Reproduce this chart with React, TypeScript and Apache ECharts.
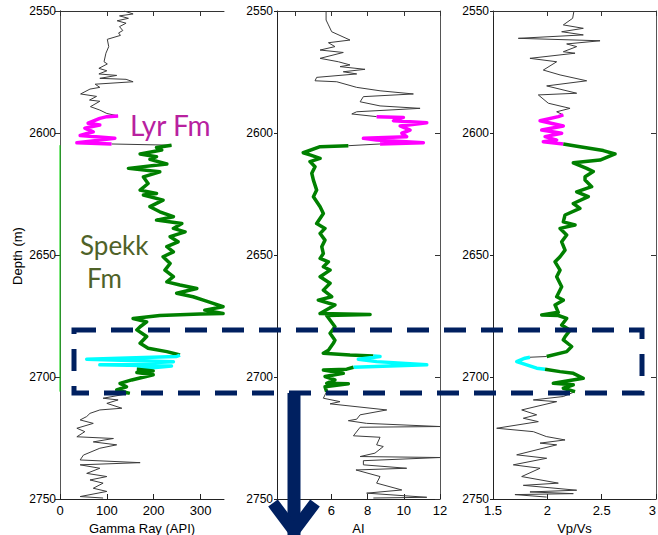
import React, { useEffect, useRef } from "react";
import * as echarts from "echarts";

type Pt = [number, number]; // [log value, depth (m)]

// Depth axis
const depthMin = 2550;
const depthMax = 2750;
const depthStep = 50;

// Tick values of the three log tracks
const grTicks = [0, 100, 200, 300];
const aiTicks = [4, 6, 8, 10, 12];
const vpvsTicks = [1.5, 2, 2.5, 3];

// ---- Gamma Ray (API) ----
const grAbove: Pt[] = [[137,2550],[156,2551.2],[127,2552],[146,2553],[122,2554],[141,2555],[127,2556.4],[134,2558],[125,2559],[129,2560],[101,2561.6],[104,2564.6],[98,2567.3],[94,2570.8],[101,2571.7],[83,2573.5],[100,2574.5],[83,2575.8],[121,2576.4],[85,2577.6],[141,2578],[156,2579],[75,2580],[85,2581.3],[64,2582],[44,2584],[78,2585],[63,2586.5],[85,2587],[65,2589.2],[85,2590.6],[100,2592],[124,2593]];
const grLyr: Pt[] = [[124,2593],[100,2593.3],[85,2594],[60,2596],[85,2596.7],[53,2598],[71,2599.5],[43,2601],[117,2602.2],[36,2604],[110,2604.5]];
const grLink: Pt[] = [[110,2604.5],[238,2605]];
const grSpekkUpper: Pt[] = [[238,2605],[206,2605.9],[217,2607],[171,2608.6],[206,2609.7],[192,2610.8],[228,2612.7],[146,2614.5],[213,2615.9],[178,2618],[188,2620.7],[171,2623.4],[206,2624.8],[178,2625.4],[220,2627.5],[192,2630.2],[213,2632.3],[242,2634.3],[206,2635.7],[260,2637.1],[242,2639.1],[267,2640.5],[235,2642.5],[252,2644.6],[228,2646.6],[242,2648.7],[220,2650.7],[235,2653.5],[224,2656.2],[242,2658.9],[228,2661],[256,2662.3],[292,2663.7],[249,2665.7],[284,2667.1],[306,2668.5],[327,2669.8],[348,2671.2],[309,2672.6],[348,2674],[299,2674.2],[213,2674.8],[156,2676],[185,2677.4],[171,2679.4],[164,2680.7],[185,2683.4],[171,2686.2],[188,2688.2],[228,2689.6],[256,2691]];
const grSand: Pt[] = [[256,2691],[249,2691.6],[57,2692.7],[242,2693.7],[85,2695],[238,2695.5],[164,2696.8]];
const grSpekkLower: Pt[] = [[164,2696.8],[199,2697.5],[164,2698.2],[199,2699.1],[153,2701.2],[128,2702.6],[142,2704],[121,2705.3],[149,2706.7]];
const grBelow: Pt[] = [[149,2706.7],[92,2708.7],[124,2709.4],[100,2710.8],[132,2712.8],[85,2713.5],[64,2714.9],[57,2716.2],[43,2717.6],[71,2719],[36,2721],[53,2722.4],[36,2724.5],[114,2725.2],[71,2726.6],[121,2727.8],[85,2729.2],[50,2732],[43,2734],[171,2735.1],[43,2736],[85,2737.4],[57,2739.5],[100,2740.8],[64,2742.2],[92,2743.5],[71,2745.6],[100,2746.9],[43,2749],[92,2749.6]];
const grZeroEdge: Pt[] = [[0,2605],[0,2706]];

// ---- Acoustic impedance (AI) ----
const aiAbove: Pt[] = [[5.71,2550],[5.71,2553.7],[5.84,2555.7],[6.02,2558.5],[7.03,2561.9],[5.84,2563],[6.2,2564.6],[5.38,2566],[6.66,2567],[5.38,2569.4],[6.39,2570.8],[7.03,2572.1],[6.48,2572.8],[7.86,2573.9],[6.66,2574.9],[7.4,2575.8],[5.19,2577.2],[5.1,2578.6],[6.3,2579],[7.4,2581.3],[8.69,2582.7],[10.53,2584],[7.77,2585.1],[7.59,2587.2],[8.69,2588.9],[10.9,2589.9],[7.4,2591.3],[7.13,2592.2],[8.5,2593.3]];
const aiLyr: Pt[] = [[8.5,2593.3],[9.98,2593.6],[9.43,2595],[11.27,2595.8],[9.8,2597.1],[10.35,2598.8],[9.89,2600.1],[10.16,2601.5],[7.77,2602.2],[8.5,2602.9],[11.08,2604],[8.69,2604.5]];
const aiLink: Pt[] = [[8.69,2604.5],[6.94,2605.2]];
const aiSpekkUpper: Pt[] = [[6.94,2605.2],[5.38,2605.6],[4.45,2608.1],[4.82,2609],[5.38,2610.4],[4.82,2611.7],[5.1,2613.8],[4.92,2616.5],[5.01,2619.3],[5.19,2623.4],[5.01,2626.1],[5.38,2630.2],[5.56,2633],[5.19,2637.1],[5.65,2639.1],[5.38,2641.2],[5.65,2643.9],[5.47,2646.6],[5.56,2649.4],[5.38,2651.4],[5.84,2652.8],[5.56,2654.8],[5.93,2656.2],[5.38,2658.9],[5.93,2661.6],[5.56,2664.4],[6.02,2667.1],[5.28,2668.5],[6.2,2670.5],[5.38,2674],[8.14,2674.4],[5.74,2674.8],[6.2,2679.4],[5.93,2682.1],[6.2,2684.9],[6.11,2686.2],[5.84,2689],[5.56,2690.3],[7.03,2691],[8.32,2691.4]];
const aiSand: Pt[] = [[8.32,2691.4],[8.69,2691.6],[7.49,2692.7],[8.5,2693.7],[11.27,2695],[7.22,2696]];
const aiSpekkLower: Pt[] = [[7.22,2696],[6.85,2696.8],[5.56,2697.1],[6.66,2698.5],[5.65,2699.8],[6.2,2701.2],[5.74,2702.6],[6.94,2702.8],[5.65,2704],[5.74,2706]];
const aiBelow: Pt[] = [[5.74,2706],[5.56,2708.7],[6.48,2710.1],[5.93,2711],[9.06,2713.5],[7.59,2715.5],[7.4,2717.3],[6.94,2717.9],[7.95,2719],[12,2720.3],[7.59,2720.6],[7.22,2724.1],[8.69,2724.7],[8.5,2727.8],[8.87,2728.5],[8.41,2731.2],[7.59,2732.6],[12,2733],[7.77,2734.3],[7.77,2736],[10.16,2737.4],[7.36,2738.1],[8.69,2740.8],[8.5,2743.5],[9.89,2746.3],[7.95,2747.6],[11.27,2749.3],[8.32,2749.6]];

// ---- Vp/Vs ----
const vpvsAbove: Pt[] = [[2.245,2550],[2.233,2553],[2.147,2555.7],[2.331,2557.1],[2.132,2558.5],[2.331,2559.8],[1.733,2561.2],[2.485,2562.2],[2.178,2563.5],[2.27,2564.6],[2.147,2566.7],[2.255,2567.3],[1.84,2569.4],[2.086,2570.8],[1.963,2574.2],[2.117,2576.2],[2.362,2578.6],[1.994,2580.7],[2.27,2583.7],[1.917,2584.4],[2.009,2587.8],[2.209,2589.9],[2.086,2591.3],[2.147,2592.6]];
const vpvsLyr: Pt[] = [[2.147,2592.6],[2.101,2593.3],[1.933,2595],[2.147,2597.1],[1.948,2598.8],[2.132,2600.1],[1.979,2601.5],[2.086,2602.9],[1.963,2603.6],[2.147,2604.5]];
const vpvsSpekkUpper: Pt[] = [[2.147,2604.5],[2.3,2605.6],[2.515,2607.2],[2.623,2608.6],[2.485,2611.1],[2.239,2612.2],[2.362,2614.5],[2.423,2615.8],[2.347,2617.9],[2.347,2619.3],[2.408,2622],[2.27,2624.1],[2.377,2626.1],[2.239,2628.9],[2.3,2630.9],[2.163,2633.6],[2.147,2636.4],[2.255,2637.7],[2.117,2639.1],[2.178,2641.8],[2.132,2644.6],[2.163,2648],[2.117,2650.7],[2.071,2652.8],[2.117,2656.2],[2.086,2658.9],[2.132,2663],[2.086,2667.1],[2.147,2668.5],[2.071,2670.5],[2.101,2673.5],[1.948,2674.6],[2.101,2674.8],[2.178,2676],[2.132,2678.7],[2.209,2680.8],[2.163,2683.5],[2.147,2684.8],[2.224,2687.5],[2.178,2689.6],[1.994,2691.6]];
const vpvsLink: Pt[] = [[1.994,2691.6],[1.84,2691.9]];
const vpvsSand: Pt[] = [[1.84,2691.9],[1.794,2692.3],[1.718,2693.7],[1.81,2695],[1.902,2696.4],[1.979,2696.8]];
const vpvsSpekkLower: Pt[] = [[1.979,2696.8],[2.117,2697.8],[2.239,2698.5],[2.331,2700.5],[2.055,2702.6],[2.239,2703.2],[2.147,2704.6],[2.255,2706]];
const vpvsBelow: Pt[] = [[2.255,2706],[2.147,2708],[1.871,2709.4],[2.086,2710.1],[1.764,2713.5],[1.902,2715.5],[1.779,2716.9],[1.917,2718.3],[1.534,2721],[1.871,2722.4],[1.99,2724.4],[2.163,2725.8],[1.933,2727.1],[2.086,2727.8],[1.718,2731.9],[1.994,2733.3],[1.687,2736],[1.933,2737.4],[1.764,2740.8],[2.101,2743.5],[1.779,2744.4],[2.27,2746.4],[1.84,2747.1],[2.239,2747.8],[1.702,2748.2],[1.994,2749.2]];

const GRAY = "#3c3c3c";
const MAGENTA = "#ff00ff";
const GREEN = "#008000";
const CYAN = "#00ffff";
const NAVY = "#002060";

type Seg = { data: Pt[]; color: string; width: number };

const tracks: {
  name: string;
  min: number;
  max: number;
  step: number;
  ticks: number[];
  segs: Seg[];
}[] = [
  {
    name: "Gamma Ray (API)",
    min: 0,
    max: 350,
    step: 50,
    ticks: grTicks,
    segs: [
      { data: grAbove, color: GRAY, width: 1 },
      { data: grLink, color: GRAY, width: 1 },
      { data: grBelow, color: GRAY, width: 1 },
      { data: grZeroEdge, color: "#00d000", width: 1 },
      { data: grLyr, color: MAGENTA, width: 3.5 },
      { data: grSpekkUpper, color: GREEN, width: 3.5 },
      { data: grSand, color: CYAN, width: 3.5 },
      { data: grSpekkLower, color: GREEN, width: 3.5 },
    ],
  },
  {
    name: "AI",
    min: 3,
    max: 12,
    step: 1,
    ticks: aiTicks,
    segs: [
      { data: aiAbove, color: GRAY, width: 1 },
      { data: aiLink, color: GRAY, width: 1 },
      { data: aiBelow, color: GRAY, width: 1 },
      { data: aiLyr, color: MAGENTA, width: 3.5 },
      { data: aiSpekkUpper, color: GREEN, width: 3.5 },
      { data: aiSand, color: CYAN, width: 3.5 },
      { data: aiSpekkLower, color: GREEN, width: 3.5 },
    ],
  },
  {
    name: "Vp/Vs",
    min: 1.5,
    max: 3,
    step: 0.5,
    ticks: vpvsTicks,
    segs: [
      { data: vpvsAbove, color: GRAY, width: 1 },
      { data: vpvsLink, color: GRAY, width: 1 },
      { data: vpvsBelow, color: GRAY, width: 1 },
      { data: vpvsLyr, color: MAGENTA, width: 3.5 },
      { data: vpvsSpekkUpper, color: GREEN, width: 3.5 },
      { data: vpvsSand, color: CYAN, width: 3.5 },
      { data: vpvsSpekkLower, color: GREEN, width: 3.5 },
    ],
  },
];

// AI track: its end label is placed as a free text at the axis end
const AI_TRACK = 1;

const gridLefts = [60, 277, 493];
const gridWidths = [164, 163, 163];
const gridTop = 11;
const gridHeight = 488;

const FONT = "Arial, 'Liberation Sans', sans-serif";

function buildOption(): echarts.EChartsOption {
  const grid = tracks.map((_, i) => ({
    left: gridLefts[i],
    top: gridTop,
    width: gridWidths[i],
    height: gridHeight,
    containLabel: false,
    outerBoundsMode: "none",
  }));

  const bottomX = tracks.map((t, i) => ({
    type: "value",
    gridIndex: i,
    position: "bottom",
    min: t.min,
    max: t.max,
    interval: t.step,
    name: t.name,
    nameLocation: "middle",
    nameGap: 19,
    nameTextStyle: { fontSize: 13, color: "#000", fontFamily: FONT },
    axisLine: { show: true, lineStyle: { color: "#222", width: 1 } },
    axisTick: { show: true, inside: true, length: 5, customValues: t.ticks, lineStyle: { color: "#222" } },
    axisLabel: {
      show: true,
      showMinLabel: true,
      showMaxLabel: true,
      fontSize: 13,
      color: "#000",
      margin: 5,
      fontFamily: FONT,
      alignMaxLabel: i === tracks.length - 1 ? "right" : "center",
      // only the listed tick values carry a label
      formatter: (v: number) => {
        if (i === AI_TRACK && Math.abs(v - t.max) < 1e-6) return "";
        return t.ticks.some((k) => Math.abs(k - v) < 1e-6) ? String(v) : "";
      },
    },
    splitLine: { show: false },
  }));

  const topX = tracks.map((t, i) => ({
    type: "value",
    gridIndex: i,
    position: "top",
    min: t.min,
    max: t.max,
    interval: t.step,
    axisLine: { show: true, lineStyle: { color: "#333", width: 1 } },
    axisTick: { show: true, inside: true, length: 5, customValues: t.ticks, lineStyle: { color: "#333" } },
    axisLabel: { show: false },
    splitLine: { show: false },
  }));

  const leftY = tracks.map((_, i) => ({
    type: "value",
    gridIndex: i,
    position: "left",
    inverse: true,
    min: depthMin,
    max: depthMax,
    interval: depthStep,
    axisLine: { show: true, lineStyle: { color: "#222", width: 1 } },
    axisTick: { show: true, inside: false, length: 3, lineStyle: { color: "#222" } },
    axisLabel: {
      show: true,
      fontSize: 12,
      color: "#000",
      margin: 4,
      fontFamily: FONT,
      formatter: (v: number) => String(v),
    },
    splitLine: { show: false },
  }));

  const rightY = tracks.map((_, i) => ({
    type: "value",
    gridIndex: i,
    position: "right",
    inverse: true,
    min: depthMin,
    max: depthMax,
    interval: depthStep,
    axisLine: { show: true, lineStyle: { color: "#555", width: 1 } },
    axisTick: { show: true, inside: true, length: 5, lineStyle: { color: "#333" } },
    axisLabel: { show: false },
    splitLine: { show: false },
  }));

  const series: any[] = [];
  tracks.forEach((t, i) => {
    t.segs.forEach((s) => {
      series.push({
        type: "line",
        xAxisIndex: i,
        yAxisIndex: i,
        data: s.data,
        showSymbol: false,
        symbol: "none",
        silent: true,
        z: s.width > 1 ? 3 : 2,
        lineStyle: { color: s.color, width: s.width, join: "round" },
      });
    });
  });

  // end label of the AI axis, at the right end of its track
  const ai = tracks[AI_TRACK];
  const aiEndX =
    gridLefts[AI_TRACK] + ((ai.max - ai.min) / (ai.max - ai.min)) * gridWidths[AI_TRACK];

  const labelFont = "Lato, 'Open Sans', sans-serif";
  const graphic: any[] = [
    {
      id: "depthTitle",
      type: "text",
      x: 17,
      y: 256,
      rotation: Math.PI / 2,
      z: 10,
      style: {
        text: "Depth (m)",
        fill: "#000",
        font: `13px ${FONT}`,
        align: "center",
        verticalAlign: "middle",
      },
    },
    {
      id: "aiMaxLabel",
      type: "text",
      x: aiEndX,
      y: gridTop + gridHeight + 5,
      z: 100,
      style: {
        text: String(ai.max),
        fill: "#000",
        font: `13px ${FONT}`,
        align: "center",
        verticalAlign: "top",
      },
    },
    {
      id: "lyr",
      type: "text",
      x: 130,
      y: 125,
      z: 10,
      style: {
        text: "Lyr Fm",
        fill: "#b8219f",
        font: `28px ${labelFont}`,
        align: "left",
        verticalAlign: "middle",
      },
    },
    {
      id: "spekk1",
      type: "text",
      x: 80,
      y: 245,
      z: 10,
      style: {
        text: "Spekk",
        fill: "#4f6228",
        font: `26px ${labelFont}`,
        align: "left",
        verticalAlign: "middle",
      },
    },
    {
      id: "spekk2",
      type: "text",
      x: 87,
      y: 278,
      z: 10,
      style: {
        text: "Fm",
        fill: "#4f6228",
        font: `26px ${labelFont}`,
        align: "left",
        verticalAlign: "middle",
      },
    },
    // dashed box around the sand interval
    {
      id: "box",
      type: "rect",
      z: 20,
      shape: { x: 74, y: 330, width: 568, height: 63 },
      style: { fill: "none", stroke: NAVY, lineWidth: 5, lineDash: [22, 15] },
    },
    // downward arrow
    {
      id: "arrowShaft",
      type: "line",
      z: 21,
      shape: { x1: 294, y1: 393, x2: 294, y2: 540 },
      style: { stroke: NAVY, lineWidth: 13 },
    },
    {
      id: "arrowHead",
      type: "polyline",
      z: 21,
      shape: { points: [[273, 503], [294, 531], [315, 503]] },
      style: { stroke: NAVY, lineWidth: 12, fill: "none", lineJoin: "miter" },
    },
  ];

  return {
    animation: false,
    backgroundColor: "#fff",
    textStyle: { fontFamily: FONT },
    grid,
    xAxis: [...bottomX, ...topX] as any,
    yAxis: [...leftY, ...rightY] as any,
    series,
    graphic,
  } as any;
}

export default function App() {
  const ref = useRef<HTMLDivElement>(null);
  useEffect(() => {
    if (!ref.current) return;
    const chart = echarts.init(ref.current, undefined, { renderer: "svg" });
    chart.setOption(buildOption());
    return () => chart.dispose();
  }, []);
  return (
    <div
      ref={ref}
      style={{ position: "fixed", left: 0, top: 0, width: 658, height: 535, background: "#fff" }}
    />
  );
}
